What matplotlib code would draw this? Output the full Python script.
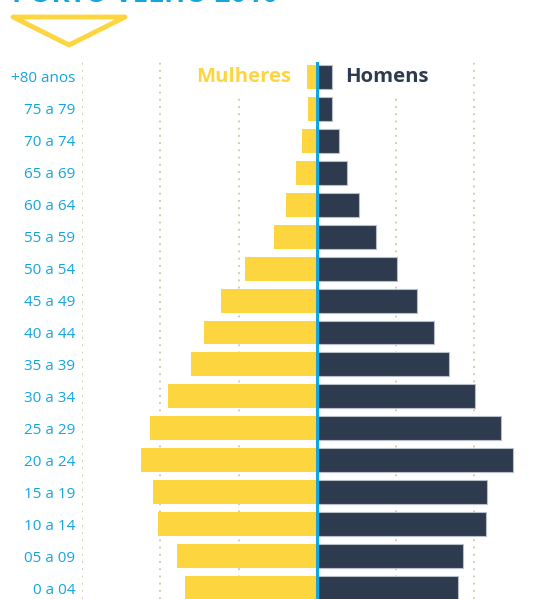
import matplotlib
matplotlib.use("Agg")
import matplotlib.pyplot as plt
from matplotlib.patches import Polygon

faixas = ["0 a 04", "05 a 09", "10 a 14", "15 a 19", "20 a 24", "25 a 29",
          "30 a 34", "35 a 39", "40 a 44", "45 a 49", "50 a 54", "55 a 59",
          "60 a 64", "65 a 69", "70 a 74", "75 a 79", "+80 anos"]
mulheres = [16820, 17830, 20250, 20890, 22420, 21270, 18980, 16050, 14390,
            12230, 9170, 5480, 3950, 2680, 1910, 1150, 1270]
homens = [17830, 18470, 21400, 21530, 24840, 23310, 20000, 16690, 14780,
          12610, 10060, 7390, 5220, 3690, 2680, 1780, 1780]
grade = [-30000, -20000, -10000, 10000, 20000]

amarelo = "#FDD63F"
azul_escuro = "#2E3A4E"
ciano = "#14A5DF"
fonte = ["Open Sans", "DejaVu Sans"]

fig = plt.figure(figsize=(5.45, 5.99), dpi=100)
W, H = 545, 599
# axes from x=82px to 545px, y from 62px to 599px (top-origin pixels)
ax = fig.add_axes([82 / W, 0, 1 - 82 / W, (599 - 62) / H])

ypos = list(range(len(faixas)))
for x in grade:
    ax.axvline(x, color="#cfc7a6", lw=1.3, ls=(0, (1, 3)), zorder=0)

ax.barh(ypos, [-v for v in mulheres], height=0.75, color=amarelo, zorder=2)
ax.barh(ypos, homens, left=100, height=0.75, color=azul_escuro,
        edgecolor="#b8bec8", linewidth=0.8, zorder=2)
ax.axvline(0, color=ciano, lw=2.2, zorder=4)

ax.set_xlim(-30000, (545 - 317) / 78.5 * 10000)
ax.set_ylim(-(599 - 588) / 31.94, (588 - 62) / 31.94)
ax.set_yticks(ypos)
ax.set_yticklabels(faixas, color=ciano, fontsize=11, family=fonte)
ax.tick_params(axis="y", length=0, pad=5)
ax.set_xticks([])
for s in ax.spines.values():
    s.set_visible(False)

topo = len(faixas) - 1
ax.text(-3300, topo, "Mulheres", ha="right", va="center", color=amarelo,
        fontsize=14.6, fontweight="bold", family=fonte, zorder=5,
        bbox=dict(facecolor="white", edgecolor="none", pad=5))
ax.text(3600, topo, "Homens", ha="left", va="center", color=azul_escuro,
        fontsize=14.6, fontweight="bold", family=fonte, zorder=5,
        bbox=dict(facecolor="white", edgecolor="none", pad=5))

# title sits almost entirely above the top edge, only its foot shows
fig.text(12 / W, 1 - 1.8 / H, "PORTO VELHO 2010", ha="left", va="baseline",
         color=ciano, fontsize=20, fontweight="bold", family=fonte)
tri = Polygon([(13 / W, 1 - 17 / H), (125 / W, 1 - 17 / H), (69 / W, 1 - 45 / H)],
              closed=True, fill=False, edgecolor=amarelo, lw=3.5,
              joinstyle="round", transform=fig.transFigure)
fig.patches.append(tri)

fig.savefig("out.png", dpi=100)
